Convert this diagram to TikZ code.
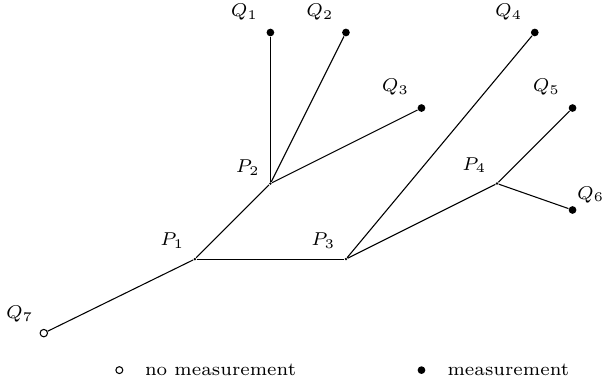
\documentclass[tikz,border=0pt]{standalone}
\usetikzlibrary{positioning}
\begin{document}
\begin{tikzpicture}[every node/.style={font=\scriptsize},
    meas/.style={circle, fill, inner sep=0pt, minimum size=2.9pt},
    nomeas/.style={circle, draw, fill=white, inner sep=0pt, minimum size=2.8pt},
    junc/.style={circle, fill, inner sep=0pt, minimum size=1pt},
    legtext/.style={anchor=west, inner sep=0pt}]
    \useasboundingbox (-2.58,-1.64) rectangle (5.39,3.43);
    % inner points
    \node[junc, label={[label distance=0pt]above left:$P_1$}] (p1) at (0,0) {};
    \node[junc, label={[label distance=0pt, yshift=-1pt]above left:$P_2$}] (p2) at (1,1) {};
    \node[junc, label={[label distance=0pt]above left:$P_3$}] (p3) at (2,0) {};
    \node[junc, label={[label distance=0pt]above left:$P_4$}] (p4) at (4,1) {};
    % leaves
    \node[meas, label={[label distance=0pt]above left:$Q_1$}] (q1) at (1,3) {};
    \node[meas, label={[label distance=0pt]above left:$Q_2$}] (q2) at (2,3) {};
    \node[meas, label={[label distance=0pt]above left:$Q_3$}] (q3) at (3,2) {};
    \node[meas, label={[label distance=0pt]above left:$Q_4$}] (q4) at (4.5,3) {};
    \node[meas, label={[label distance=0pt]above left:$Q_5$}] (q5) at (5,2) {};
    \node[meas, label={[xshift=-3pt, yshift=-2pt]above right:$Q_6$}] (q6) at (5,0.65) {};
    \node[nomeas, label={[label distance=-1pt]above left:$Q_7$}] (q7) at (-2,-0.98) {};
    \foreach \a/\b in {q7/p1, p1/p2, p1/p3, p2/q1, p2/q2, p2/q3, p3/q4, p3/p4, p4/q5, p4/q6}
        \draw (\a) -- (\b);
    % legend
    \node[nomeas, minimum size=2.6pt] (lno) at (-1,-1.47) {};
    \node[legtext, right=0.28cm of lno] (lnotext) {no measurement};
    \node[meas] (lyes) at (3,-1.47) {};
    \node[legtext, right=0.28cm of lyes] (lyestext) {measurement};
\end{tikzpicture}
\end{document}
